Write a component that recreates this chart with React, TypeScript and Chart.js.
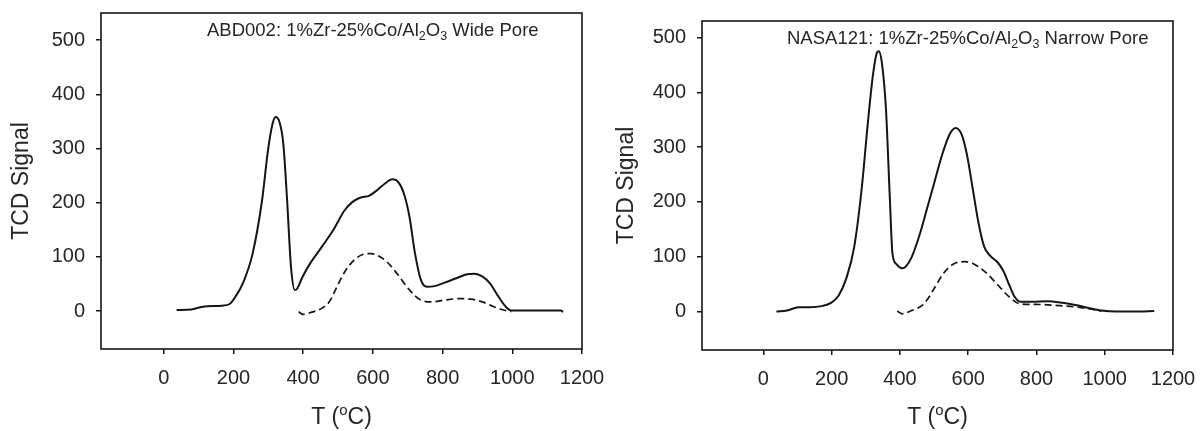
import React, { useEffect, useRef } from 'react';
import { Chart, registerables } from 'chart.js';

Chart.register(...registerables);

// ---------- data ----------
const xTickValues = [0, 200, 400, 600, 800, 1000, 1200];
const yTickValues = [0, 100, 200, 300, 400, 500];

// Wide pore (ABD002)
const wideSolidT = [37, 79, 112, 167, 189, 205, 227, 255, 282, 299, 312, 321, 332, 343, 354, 365, 376, 381, 398, 420, 453, 486, 519, 541, 563, 590, 612, 634, 656, 673, 689, 705, 721, 738, 755, 777, 804, 837, 870, 892, 914, 936, 958, 980, 997, 1068, 1140, 1145];
const wideSolidSignal = [2, 3, 8, 10, 13, 26, 51, 106, 204, 296, 345, 358, 349, 309, 204, 82, 39, 40, 63, 88, 118, 149, 186, 201, 209, 213, 223, 235, 243, 238, 217, 174, 106, 57, 45, 46, 52, 60, 68, 69, 64, 51, 29, 9, 1, 1, 1, -2];
const wideDashedT = [387, 398, 420, 453, 475, 497, 519, 546, 574, 596, 618, 640, 673, 705, 738, 771, 804, 848, 881, 914, 947, 980, 997];
const wideDashedSignal = [-1, -6, -3, 5, 17, 45, 72, 94, 105, 106, 101, 91, 66, 39, 20, 17, 20, 23, 22, 17, 8, 1, -1];

// Narrow pore (NASA121)
const narrowSolidT = [38, 69, 103, 137, 170, 198, 221, 243, 266, 288, 305, 321, 333, 338, 347, 359, 370, 378, 389, 406, 417, 434, 456, 479, 501, 524, 546, 563, 580, 596, 613, 630, 647, 664, 686, 703, 720, 736, 753, 787, 832, 877, 922, 956, 990, 1033, 1089, 1145];
const narrowSolidSignal = [0, 2, 8, 8, 10, 16, 30, 61, 118, 225, 338, 432, 473, 475, 454, 369, 212, 106, 87, 79, 82, 99, 137, 187, 236, 287, 324, 335, 324, 287, 225, 162, 118, 102, 90, 74, 49, 27, 18, 18, 19, 16, 11, 6, 2, 0, 0, 1];
const narrowDashedT = [392, 406, 434, 462, 479, 501, 529, 557, 591, 619, 652, 686, 720, 753, 809, 865, 922, 966, 990];
const narrowDashedSignal = [1, -4, 2, 10, 21, 43, 71, 87, 91, 86, 71, 49, 27, 14, 13, 11, 8, 4, 1];

const wideTitleParts = [
  { text: 'ABD002: 1%Zr-25%Co/Al' },
  { text: '2', sub: true },
  { text: 'O' },
  { text: '3', sub: true },
  { text: ' Wide Pore' },
];
const narrowTitleParts = [
  { text: 'NASA121: 1%Zr-25%Co/Al' },
  { text: '2', sub: true },
  { text: 'O' },
  { text: '3', sub: true },
  { text: ' Narrow Pore' },
];
const xTitleMain1 = 'T (';
const xTitleSup = 'o';
const xTitleMain2 = 'C)';
const yTitle = 'TCD Signal';

// ---------- style ----------
const FONT = '"Liberation Sans", Arial, Helvetica, sans-serif';
const TEXT = '#262626';
const LINE = '#151515';

const zip = (xs: number[], ys: number[]) => xs.map((x, i) => ({ x, y: ys[i] }));

const framePlugin = {
  id: 'frame',
  afterDraw(chart: any, _args: any, opts: any) {
    const { ctx, chartArea: a } = chart;
    ctx.save();
    ctx.strokeStyle = LINE;
    ctx.lineWidth = 1.6;
    ctx.strokeRect(a.left, a.top, a.right - a.left, a.bottom - a.top);

    // inner title with subscripts
    ctx.fillStyle = TEXT;
    ctx.textAlign = 'left';
    ctx.textBaseline = 'alphabetic';
    let x = a.left + opts.titleDx;
    const by = a.top + opts.titleDy;
    for (const p of opts.titleParts) {
      ctx.font = `${p.sub ? 12.5 : 18.5}px ${FONT}`;
      ctx.fillText(p.text, x, by + (p.sub ? 4 : 0));
      x += ctx.measureText(p.text).width;
    }

    // x axis title: T (°C) with superscript o
    const mainF = `23px ${FONT}`;
    const supF = `15px ${FONT}`;
    ctx.font = mainF;
    const w1 = ctx.measureText(xTitleMain1).width;
    const w3 = ctx.measureText(xTitleMain2).width;
    ctx.font = supF;
    const w2 = ctx.measureText(xTitleSup).width;
    const total = w1 + w2 + w3;
    let tx = (a.left + a.right) / 2 - total / 2;
    const ty = opts.xTitleBaseline;
    ctx.font = mainF;
    ctx.fillText(xTitleMain1, tx, ty);
    tx += w1;
    ctx.font = supF;
    ctx.fillText(xTitleSup, tx, ty - 9);
    tx += w2;
    ctx.font = mainF;
    ctx.fillText(xTitleMain2, tx, ty);
    ctx.restore();
  },
};

type PanelProps = {
  left: number;
  width: number;
  yMin: number;
  yMax: number;
  padTop: number;
  padRight: number;
  yAxisWidth: number;
  xAxisHeight: number;
  yTitlePad: number;
  titleParts: { text: string; sub?: boolean }[];
  titleDx: number;
  titleDy: number;
  solidT: number[];
  solidS: number[];
  dashedT: number[];
  dashedS: number[];
};

function Panel(p: PanelProps) {
  const ref = useRef<HTMLCanvasElement | null>(null);
  useEffect(() => {
    if (!ref.current) return;
    const chart = new Chart(ref.current, {
      type: 'line',
      data: {
        datasets: [
          {
            label: 'solid',
            data: zip(p.solidT, p.solidS),
            borderColor: LINE,
            borderWidth: 2,
            pointRadius: 0,
            fill: false,
            cubicInterpolationMode: 'monotone',
          },
          {
            label: 'dashed',
            data: zip(p.dashedT, p.dashedS),
            borderColor: LINE,
            borderWidth: 1.7,
            borderDash: [7, 4],
            pointRadius: 0,
            fill: false,
            cubicInterpolationMode: 'monotone',
          },
        ],
      },
      plugins: [framePlugin],
      options: {
        responsive: false,
        animation: false,
        devicePixelRatio: 1,
        layout: { padding: { top: p.padTop, right: p.padRight, left: 0, bottom: 0 } },
        plugins: {
          legend: { display: false },
          tooltip: { enabled: false },
          frame: {
            titleParts: p.titleParts,
            titleDx: p.titleDx,
            titleDy: p.titleDy,
            xTitleBaseline: 424,
          },
        } as any,
        scales: {
          x: {
            type: 'linear',
            min: -180,
            max: 1200,
            afterBuildTicks: (s: any) => {
              s.ticks = xTickValues.map((v) => ({ value: v }));
            },
            afterFit: (s: any) => {
              s.height = p.xAxisHeight;
              s.paddingLeft = 0;
              s.paddingRight = 0;
            },
            border: { display: false },
            grid: { drawOnChartArea: false, drawTicks: true, tickLength: 5, color: LINE, lineWidth: 1.5 },
            ticks: {
              color: TEXT,
              font: { family: FONT, size: 20 },
              padding: 12,
              maxRotation: 0,
              autoSkip: false,
              callback: (v: any) => String(v),
            },
          },
          y: {
            type: 'linear',
            min: p.yMin,
            max: p.yMax,
            afterBuildTicks: (s: any) => {
              s.ticks = yTickValues.map((v) => ({ value: v }));
            },
            afterFit: (s: any) => {
              s.width = p.yAxisWidth;
              s.paddingTop = 0;
              s.paddingBottom = 0;
            },
            border: { display: false },
            grid: { drawOnChartArea: false, drawTicks: true, tickLength: 5, color: LINE, lineWidth: 1.5 },
            ticks: {
              color: TEXT,
              font: { family: FONT, size: 20 },
              padding: 11,
              autoSkip: false,
              callback: (v: any) => String(v),
            },
            title: {
              display: true,
              text: yTitle,
              color: TEXT,
              font: { family: FONT, size: 23 },
              padding: { top: p.yTitlePad, bottom: 0 },
            },
          },
        },
      },
    } as any);
    return () => chart.destroy();
  }, []);
  return (
    <canvas
      ref={ref}
      width={p.width}
      height={431}
      style={{ position: 'absolute', left: p.left, top: 0, width: p.width, height: 431 }}
    />
  );
}

export default function App() {
  return (
    <div style={{ position: 'absolute', left: 0, top: 0, width: 1200, height: 431, background: '#fff', overflow: 'hidden' }}>
      <Panel
        left={0}
        width={620}
        yMin={-70}
        yMax={550}
        padTop={13}
        padRight={38}
        yAxisWidth={101}
        xAxisHeight={82}
        yTitlePad={8}
        titleParts={wideTitleParts}
        titleDx={106}
        titleDy={23}
        solidT={wideSolidT}
        solidS={wideSolidSignal}
        dashedT={wideDashedT}
        dashedS={wideDashedSignal}
      />
      <Panel
        left={600}
        width={600}
        yMin={-70}
        yMax={530}
        padTop={21}
        padRight={27}
        yAxisWidth={102}
        xAxisHeight={81}
        yTitlePad={13}
        titleParts={narrowTitleParts}
        titleDx={85}
        titleDy={22.5}
        solidT={narrowSolidT}
        solidS={narrowSolidSignal}
        dashedT={narrowDashedT}
        dashedS={narrowDashedSignal}
      />
    </div>
  );
}
